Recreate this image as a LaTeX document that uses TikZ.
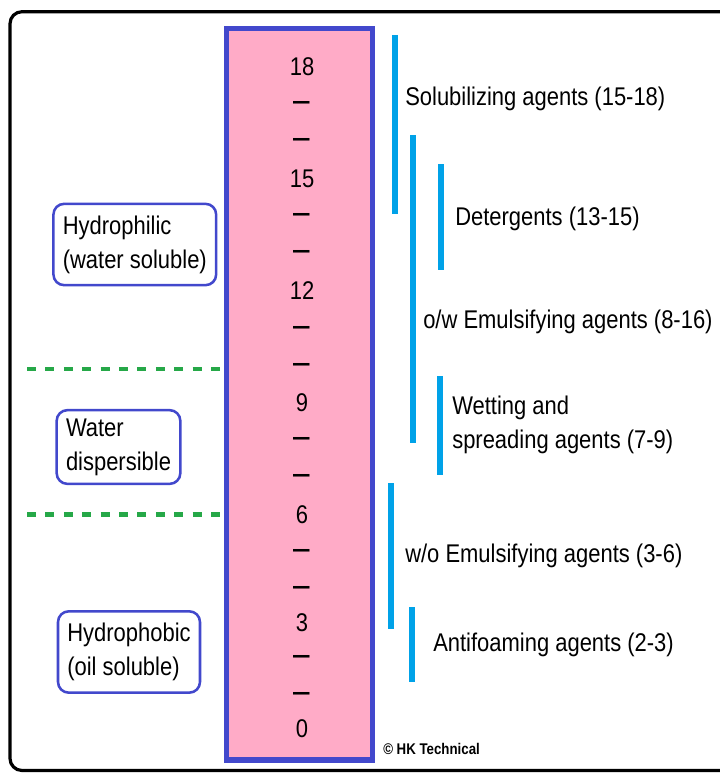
\documentclass[tikz,border=0pt]{standalone}
\usepackage{fontspec}
\setmainfont{Liberation Sans}[FakeStretch=0.858]
\usetikzlibrary{positioning,backgrounds}
\definecolor{scalepink}{RGB}{255,171,199}
\definecolor{scaleblue}{RGB}{66,72,204}
\definecolor{rangecyan}{RGB}{0,162,232}
\definecolor{zonegreen}{RGB}{38,168,72}
\newcommand{\hlbfont}{\fontsize{19.2}{25.5}\selectfont}
\newcommand{\tickdash}{\scalebox{1.35}[1.5]{–}}
\tikzset{
  outerframe/.style={
    draw=black,
    line width=2.4pt,
    rounded corners=9pt
  },
  scalecol/.style={
    draw=scaleblue,
    fill=scalepink,
    line width=4.1pt,
    minimum width=109.5pt,
    minimum height=548.6pt,
    inner sep=0pt
  },
  hlbtick/.style={font=\hlbfont, anchor=base, inner sep=0pt},
  zonebox/.style={
    draw=scaleblue,
    line width=1.9pt,
    rounded corners=8pt,
    align=left,
    font=\hlbfont,
    inner xsep=7pt,
    inner ysep=8.8pt
  },
  zoneline/.style={draw=zonegreen, line width=3.7pt, dash pattern=on 6.8pt off 7pt},
  rangebar/.style={draw=rangecyan, line width=4.9pt},
  agent/.style={font=\hlbfont, anchor=base west, inner sep=0pt},
  credit/.style={font=\bfseries\fontsize{11.6}{14}\selectfont, anchor=base west, inner sep=0pt},
}

\begin{document}
\begin{tikzpicture}[x=0.75pt, y=-0.75pt]
\useasboundingbox (0,0) rectangle (719,774);

% Outer frame
\draw[outerframe] (10,11.7) rectangle (745,770.5);

% HLB scale column
\node[scalecol] (scale) at (299.5,394.3) {};
\foreach \t/\b [count=\i] in {18/75, \tickdash/112, \tickdash/149, 15/187, \tickdash/224,
    \tickdash/261, 12/299, \tickdash/337, \tickdash/374, 9/411, \tickdash/448, \tickdash/485,
    6/523, \tickdash/560, \tickdash/597, 3/631, \tickdash/666, \tickdash/703, 0/737.5}
  \node[hlbtick] (tick\i) at (302,\b) {\t};

% Solubility zones
\coordinate (zoneA) at (27,369);
\coordinate (zoneB) at (27,514.5);
\begin{scope}[on background layer]
  \draw[zoneline] (zoneA) -- (zoneA -| scale.west);
  \draw[zoneline] (zoneB) -- (zoneB -| scale.west);
\end{scope}
\node[zonebox] (philic) at (134.8,244.5) {Hydrophilic\\(water soluble)};
\node[zonebox, inner ysep=6.3pt] (dispers) at (118.5,447) {Water\\dispersible};
\node[zonebox] (phobic) at (129,652) {Hydrophobic\\(oil soluble)};

% Application ranges
\draw[rangebar] (395,35) -- (395,214);
\draw[rangebar] (413,135) -- (413,443);
\draw[rangebar] (441,164) -- (441,270);
\draw[rangebar] (440,376) -- (440,475);
\draw[rangebar] (391,483) -- (391,629);
\draw[rangebar] (412,607) -- (412,682);

\node[agent] (solub) at (405,105) {Solubilizing agents (15-18)};
\node[agent] (deterg) at (455,225) {Detergents (13-15)};
\node[agent] (owemul) at (423,328) {o/w Emulsifying agents (8-16)};
\node[agent, anchor=west, align=left] (wetting) at (452,425) {Wetting and\\spreading agents (7-9)};
\node[agent] (woemul) at (405,562.7) {w/o Emulsifying agents (3-6)};
\node[agent] (antifoam) at (433,651.7) {Antifoaming agents (2-3)};

\node[credit] (copy) at (383,754) {© HK Technical};

\end{tikzpicture}
\end{document}
